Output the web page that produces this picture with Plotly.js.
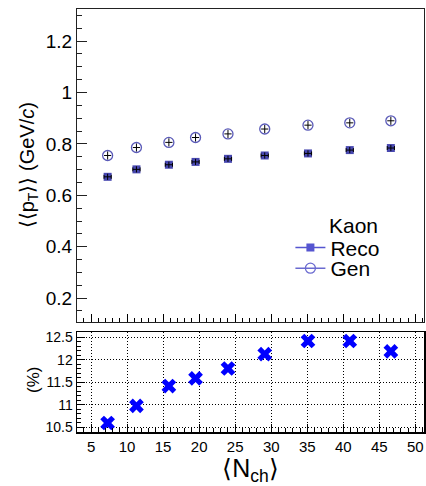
<!DOCTYPE html>
<html>
<head>
<meta charset="utf-8">
<script src="https://cdn.plot.ly/plotly-3.0.1.min.js"></script>
<style>html,body{margin:0;padding:0;background:#fff;}#plot{width:426px;height:486px;}</style>
</head>
<body>
<div id="plot"></div>
<script>
// Mean charged multiplicity bins
const nch = [7.3, 11.3, 15.8, 19.5, 24.0, 29.1, 35.1, 40.9, 46.6];
// <<pT>> (GeV/c) for kaons
const recoMeanPt = [0.672, 0.701, 0.719, 0.730, 0.742, 0.755, 0.763, 0.776, 0.784];
const genMeanPt  = [0.755, 0.786, 0.806, 0.825, 0.839, 0.858, 0.873, 0.882, 0.890];
// error bars (as drawn)
const nchErr     = [0.5, 0.5, 0.5, 0.5, 0.5, 0.5, 0.5, 0.5, 0.5];
const recoErr    = [0.012, 0.012, 0.012, 0.012, 0.012, 0.012, 0.012, 0.012, 0.012];
const genErr     = [0.016, 0.016, 0.016, 0.016, 0.016, 0.016, 0.016, 0.016, 0.016];
// relative difference (%)
const diffPct = [10.60, 10.98, 11.42, 11.59, 11.81, 12.13, 12.42, 12.42, 12.19];

const FONT = 'Liberation Sans, Arial, Helvetica, sans-serif';
const RECO_COL = '#4848b0';
const GEN_COL = '#5a5ab8';

const traces = [
  { x: nch, y: recoMeanPt, xaxis: 'x2', yaxis: 'y2', type: 'scatter', mode: 'markers',
    marker: { symbol: 'square', size: 8, color: RECO_COL }, showlegend: false },
  { x: nch, y: recoMeanPt, xaxis: 'x2', yaxis: 'y2', type: 'scatter', mode: 'markers',
    marker: { size: 1, opacity: 0 }, showlegend: false, hoverinfo: 'skip',
    error_x: { type: 'data', array: nchErr, color: '#000', thickness: 1, width: 2 },
    error_y: { type: 'data', array: recoErr, color: '#000', thickness: 1, width: 0 } },
  { x: nch, y: genMeanPt, xaxis: 'x2', yaxis: 'y2', type: 'scatter', mode: 'markers',
    marker: { symbol: 'circle-open', size: 10, color: GEN_COL, line: { width: 1.3, color: GEN_COL } },
    showlegend: false,
    error_x: { type: 'data', array: nchErr, color: '#000', thickness: 1, width: 0 },
    error_y: { type: 'data', array: genErr, color: '#000', thickness: 1, width: 0 } },
  // legend entries
  { x: [null], y: [null], xaxis: 'x2', yaxis: 'y2', type: 'scatter', mode: 'lines+markers', name: 'Reco',
    legend: 'legend',
    marker: { symbol: 'square', size: 8, color: '#5555d0' }, line: { color: '#5555d0', width: 1.5 } },
  { x: [null], y: [null], xaxis: 'x2', yaxis: 'y2', type: 'scatter', mode: 'lines+markers', name: 'Gen',
    legend: 'legend2',
    marker: { symbol: 'circle-open', size: 10, color: '#6a6ad0', line: { width: 1.3, color: '#6a6ad0' } },
    line: { color: '#6a6ad0', width: 1.5 } },
  // ratio panel
  { x: nch, y: diffPct, xaxis: 'x', yaxis: 'y', type: 'scatter', mode: 'markers',
    marker: { symbol: 'x', size: 13, color: '#0000ff' }, showlegend: false }
];

const legendBase = { xanchor: 'left', yanchor: 'top', bgcolor: 'rgba(0,0,0,0)',
                     font: { size: 21, family: FONT, color: '#000' }, itemwidth: 30 };

const layout = {
  width: 426, height: 486,
  margin: { l: 77, r: 2, t: 9, b: 54 },
  paper_bgcolor: '#fff', plot_bgcolor: '#fff',
  font: { family: FONT, color: '#000' },
  showlegend: true,
  legend: Object.assign({ x: 0.615, y: 0.484 }, legendBase),
  legend2: Object.assign({ x: 0.615, y: 0.435 }, legendBase),
  xaxis: {
    domain: [0, 1], anchor: 'y', range: [3.05, 51.2],
    tick0: 5, dtick: 5, ticks: 'inside', ticklen: 8, tickcolor: '#000',
    minor: { dtick: 1, ticks: 'inside', ticklen: 4, tickcolor: '#000', showgrid: false },
    showgrid: true, gridcolor: '#000', griddash: '1px,2px', gridwidth: 1,
    showline: true, mirror: true, linecolor: '#000', linewidth: 1.5,
    zeroline: false, tickfont: { size: 15 },
    title: { text: '⟨N<sub>ch</sub>⟩', font: { size: 25 }, standoff: 6 }
  },
  yaxis: {
    domain: [0, 0.2364], anchor: 'x', range: [10.40, 12.62],
    tick0: 10.5, dtick: 0.5, ticks: 'inside', ticklen: 8, tickcolor: '#000',
    minor: { dtick: 0.1, ticks: 'inside', ticklen: 4, tickcolor: '#000', showgrid: false },
    showgrid: true, gridcolor: '#000', griddash: '1px,2px', gridwidth: 1,
    showline: true, mirror: true, linecolor: '#000', linewidth: 1.5,
    zeroline: false, tickfont: { size: 14 }
  },
  xaxis2: {
    domain: [0, 1], anchor: 'y2', matches: 'x', range: [3.05, 51.2],
    tick0: 5, dtick: 5, ticks: 'inside', ticklen: 8, tickcolor: '#000',
    minor: { dtick: 1, ticks: 'inside', ticklen: 4, tickcolor: '#000', showgrid: false },
    showgrid: false, showticklabels: false,
    showline: true, mirror: true, linecolor: '#222', linewidth: 1, zeroline: false
  },
  yaxis2: {
    domain: [0.26, 1], anchor: 'x2', range: [0.107, 1.325],
    tick0: 0, dtick: 0.2, ticks: 'inside', ticklen: 10, tickcolor: '#222',
    minor: { dtick: 0.05, ticks: 'inside', ticklen: 5, tickcolor: '#222', showgrid: false },
    showgrid: false, showline: true, mirror: true, linecolor: '#222', linewidth: 1,
    zeroline: false, tickfont: { size: 19 }
  },
  annotations: [
    { text: 'Kaon', xref: 'paper', yref: 'paper', x: 0.72, y: 0.487, xanchor: 'left', yanchor: 'middle',
      showarrow: false, font: { size: 21, family: FONT, color: '#000' } },
    { text: '⟨⟨p<sub>T</sub>⟩⟩ (GeV/<i>c</i>)', xref: 'paper', yref: 'paper', x: -0.139, y: 0.63,
      xanchor: 'center', yanchor: 'middle', textangle: -90, showarrow: false,
      font: { size: 20, family: FONT, color: '#000' } },
    { text: '(%)', xref: 'paper', yref: 'paper', x: -0.124, y: 0.123,
      xanchor: 'center', yanchor: 'middle', textangle: -90, showarrow: false,
      font: { size: 17, family: FONT, color: '#000' } }
  ]
};

Plotly.newPlot('plot', traces, layout, { displayModeBar: false, staticPlot: true });
</script>
</body>
</html>
